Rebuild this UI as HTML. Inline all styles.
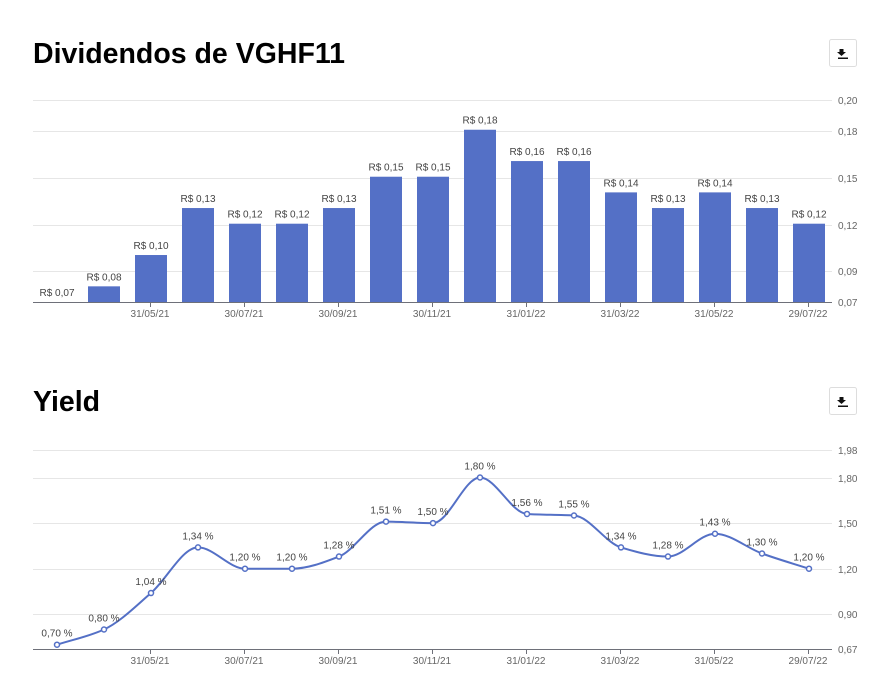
<!DOCTYPE html>
<html><head><meta charset="utf-8"><style>
body{margin:0;background:#fff;width:886px;height:689px;overflow:hidden;font-family:"Liberation Sans",Arial,sans-serif}
svg{position:absolute;left:0;top:0}
</style></head><body>
<svg id="s" width="886" height="689" xmlns="http://www.w3.org/2000/svg" font-family="Liberation Sans, Arial, sans-serif">
<text x="33" y="63" font-size="28.5" font-weight="bold" fill="#000">Dividendos de VGHF11</text>
<text x="33" y="411" font-size="28.5" font-weight="bold" fill="#000">Yield</text>
<rect x="829.5" y="39.5" width="27" height="27" fill="#fff" stroke="#ddd" rx="2"/>
<rect x="829.5" y="387.5" width="27" height="27" fill="#fff" stroke="#ddd" rx="2"/>
<path d="M839.5 49 h4 v3 h2.5 l-4.5 4 l-4.5 -4 h2.5z M838 57.5 h10 v1.5 h-10z" fill="#111"/>
<path d="M839.5 397 h4 v3 h2.5 l-4.5 4 l-4.5 -4 h2.5z M838 405.5 h10 v1.5 h-10z" fill="#111"/>
<g id="g"></g>
</svg>
<script>
var g=document.getElementById('g'),h='';
var xs=[];for(var i=0;i<17;i++)xs.push(57+47*i);
var ty=[[0.20,100],[0.18,131],[0.15,178],[0.12,225],[0.09,271]];
ty.forEach(function(t){h+='<line x1="33" x2="832" y1="'+(t[1]+.5)+'" y2="'+(t[1]+.5)+'" stroke="#e6e6e6"/>';
h+='<text x="838" y="'+(t[1]+4)+'" font-size="10" fill="#666">'+t[0].toFixed(2).replace('.',',')+'</text>';});
h+='<text x="838" y="306" font-size="10" fill="#666">0,07</text>';
var bv=[0.07,0.08,0.10,0.13,0.12,0.12,0.13,0.15,0.15,0.18,0.16,0.16,0.14,0.13,0.14,0.13,0.12];
bv.forEach(function(v,i){var y=302-(v-0.07)*1566;
if(v>0.07)h+='<rect x="'+(xs[i]-16)+'" y="'+y+'" width="32" height="'+(302-y)+'" fill="#5470c6"/>';
h+='<text x="'+xs[i]+'" y="'+(y-6)+'" font-size="10" fill="#444" text-anchor="middle">R$ '+v.toFixed(2).replace('.',',')+'</text>';});
h+='<line x1="33" x2="832" y1="302.5" y2="302.5" stroke="#6e7079"/>';
var dl=['31/05/21','30/07/21','30/09/21','30/11/21','31/01/22','31/03/22','31/05/22','29/07/22'];
dl.forEach(function(d,k){var x=150+94*k;
h+='<line x1="'+(x+.5)+'" x2="'+(x+.5)+'" y1="302" y2="307" stroke="#6e7079"/>';
h+='<text x="'+x+'" y="317" font-size="10" fill="#666" text-anchor="middle">'+d+'</text>';
h+='<line x1="'+(x+.5)+'" x2="'+(x+.5)+'" y1="649" y2="654" stroke="#6e7079"/>';
h+='<text x="'+x+'" y="664" font-size="10" fill="#666" text-anchor="middle">'+d+'</text>';});
function Y(v){return 568.7-(v-1.2)*152;}
[1.98,1.80,1.50,1.20,0.90].forEach(function(v){var y=Math.round(Y(v));
h+='<line x1="33" x2="832" y1="'+(y+.5)+'" y2="'+(y+.5)+'" stroke="#e6e6e6"/>';
h+='<text x="838" y="'+(y+4)+'" font-size="10" fill="#666">'+v.toFixed(2).replace('.',',')+'</text>';});
h+='<text x="838" y="653" font-size="10" fill="#666">0,67</text>';
h+='<line x1="33" x2="832" y1="649.5" y2="649.5" stroke="#6e7079"/>';
var lv=[0.70,0.80,1.04,1.34,1.20,1.20,1.28,1.51,1.50,1.80,1.56,1.55,1.34,1.28,1.43,1.30,1.20];
var ys=lv.map(Y),n=17,d=[],m=[];
for(var i=0;i<n-1;i++)d.push((ys[i+1]-ys[i])/47);
m[0]=d[0];m[n-1]=d[n-2];
for(var i=1;i<n-1;i++){m[i]=(d[i-1]*d[i]<=0)?0:2/(1/d[i-1]+1/d[i]);}
var p='M'+xs[0]+' '+ys[0];
for(var i=0;i<n-1;i++){p+=' C'+(xs[i]+47/3)+' '+(ys[i]+m[i]*47/3)+' '+(xs[i+1]-47/3)+' '+(ys[i+1]-m[i+1]*47/3)+' '+xs[i+1]+' '+ys[i+1];}
h+='<path d="'+p+'" fill="none" stroke="#5470c6" stroke-width="2"/>';
lv.forEach(function(v,i){h+='<circle cx="'+xs[i]+'" cy="'+ys[i]+'" r="2.5" fill="#fff" stroke="#5470c6" stroke-width="1.5"/>';
h+='<text x="'+xs[i]+'" y="'+(ys[i]-8)+'" font-size="10" fill="#444" text-anchor="middle">'+v.toFixed(2).replace('.',',')+' %</text>';});
g.innerHTML=h;
</script>
</body></html>
